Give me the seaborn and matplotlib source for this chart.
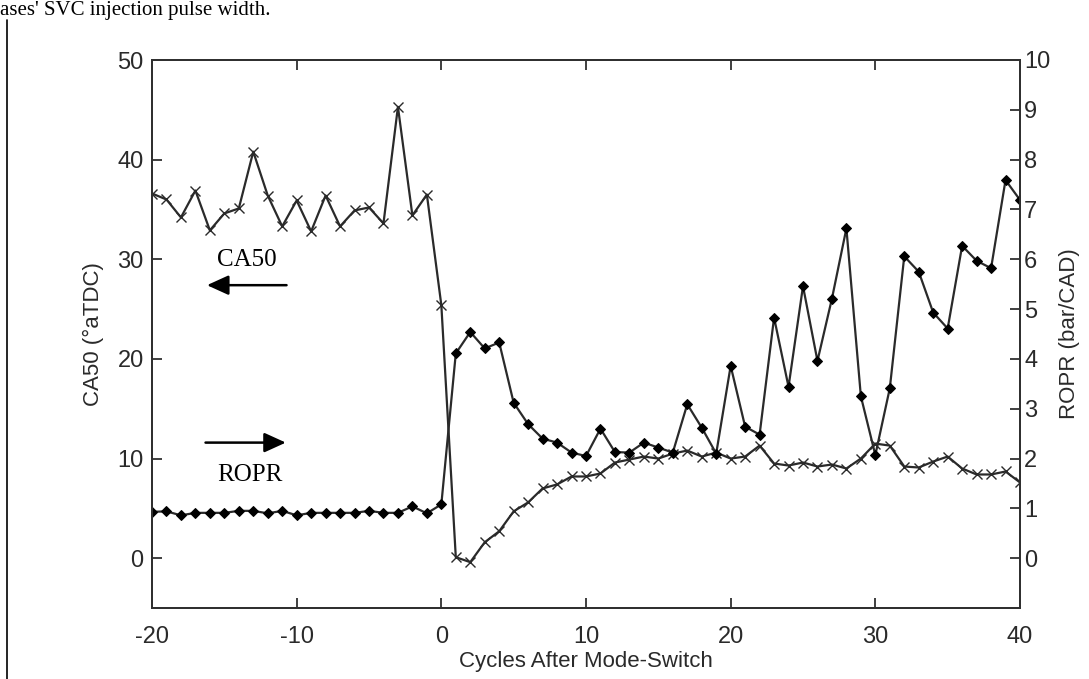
import matplotlib
matplotlib.use("Agg")
import matplotlib.pyplot as plt
import seaborn as sns
import numpy as np

cycles = list(range(-20, 41))
ca50 = [36.6, 36.0, 34.2, 36.9, 32.9, 34.6, 35.1, 40.8, 36.4, 33.3,
        35.9, 32.8, 36.4, 33.3, 34.9, 35.2, 33.6, 45.3, 34.4, 36.5,
        25.4, 0.1, -0.4, 1.6, 2.7, 4.7, 5.6, 7.0, 7.4, 8.2,
        8.2, 8.5, 9.6, 9.9, 10.2, 10.0, 10.5, 10.8, 10.2, 10.6,
        10.0, 10.2, 11.3, 9.5, 9.3, 9.6, 9.2, 9.4, 9.0, 10.0,
        11.5, 11.3, 9.2, 9.1, 9.7, 10.2, 9.0, 8.4, 8.4, 8.7,
        7.6]
ropr = [0.93, 0.94, 0.86, 0.91, 0.91, 0.91, 0.95, 0.95, 0.90, 0.95,
        0.86, 0.91, 0.91, 0.91, 0.91, 0.95, 0.91, 0.91, 1.04, 0.90,
        1.08, 4.11, 4.54, 4.21, 4.33, 3.12, 2.69, 2.40, 2.32, 2.12,
        2.05, 2.60, 2.13, 2.12, 2.32, 2.22, 2.12, 3.09, 2.62, 2.10,
        3.86, 2.64, 2.48, 4.83, 3.44, 5.46, 3.96, 5.21, 6.62, 3.25,
        2.07, 3.41, 6.06, 5.75, 4.93, 4.61, 6.27, 5.97, 5.82, 7.59,
        7.19]
xticks = [-20, -10, 0, 10, 20, 30, 40]
left_ticks = [0, 10, 20, 30, 40, 50]
right_ticks = list(range(0, 11))

sns.set_theme(style="white")
plt.rcParams['font.family'] = ['Liberation Sans', 'DejaVu Sans']

fig = plt.figure(figsize=(10.89, 6.79), dpi=100)
ax = fig.add_axes([152/1089, 1-608/679, (1020-152)/1089, (608-60)/679])
ax2 = ax.twinx()

lc = '#2a2a2a'
sns.lineplot(x=cycles, y=ca50, ax=ax, color=lc, linewidth=1.6, marker='x',
             markersize=6.5, markeredgewidth=1.0, markeredgecolor=lc)
sns.lineplot(x=cycles, y=ropr, ax=ax2, color=lc, linewidth=1.6, marker='D',
             markersize=5, markeredgecolor='black', markerfacecolor='black')

ax.set_xlim(-20, 40)
ax.set_ylim(-5, 50)
ax2.set_ylim(-1, 10)
ax.set_xticks(xticks)
ax.set_xticklabels([str(t) for t in xticks])
ax.set_yticks(left_ticks)
ax.set_yticklabels([str(t) for t in left_ticks])
ax2.set_yticks(right_ticks)
ax2.set_yticklabels([str(t) for t in right_ticks])

tc = '#2a2a2a'
for a in (ax, ax2):
    for s in a.spines.values():
        s.set_color('#303030')
        s.set_linewidth(1.4)
        s.set_visible(True)
ax.tick_params(axis='x', direction='in', top=True, bottom=True, length=7, width=1.3,
               color='#303030', labelsize=17, labelcolor=tc, pad=13)
ax.tick_params(axis='y', direction='in', left=True, right=False, length=7, width=1.3,
               color='#303030', labelsize=17, labelcolor=tc, pad=6)
ax2.tick_params(axis='y', direction='in', right=True, left=False, length=7, width=1.3,
                color='#303030', labelsize=17, labelcolor=tc, pad=3)

ax.set_xlabel('Cycles After Mode-Switch', fontsize=16, color=tc, labelpad=2)
ax.set_ylabel('CA50 (°aTDC)', fontsize=16, color=tc, labelpad=10)
ax2.set_ylabel('ROPR (bar/CAD)', fontsize=16, color=tc, labelpad=6)
ax.grid(False)
ax2.grid(False)

# annotations
arrow_kw = dict(arrowstyle='-|>,head_length=1.1,head_width=0.5', color='black', lw=1.8,
                shrinkA=0, shrinkB=0)
ax.text(-13.45, 29.9, 'CA50', family='Liberation Serif', fontsize=18, ha='center', va='center', color='black')
ax.annotate('', xy=(-16.2, 27.4), xytext=(-10.7, 27.4), arrowprops=arrow_kw)
ax.text(-13.2, 8.3, 'ROPR', family='Liberation Serif', fontsize=18, ha='center', va='center', color='black')
ax.annotate('', xy=(-10.75, 11.6), xytext=(-16.3, 11.6), arrowprops=arrow_kw)

# page fragments around the figure
fig.text(0.0, 0.999, "ases' SVC injection pulse width.", family='Liberation Serif', fontsize=15,
         ha='left', va='top', color='black')
fig.add_artist(plt.Line2D([7/1089, 7/1089], [0, 1-20/679], color='black', lw=1.2))

fig.savefig('out.png', dpi=100)
